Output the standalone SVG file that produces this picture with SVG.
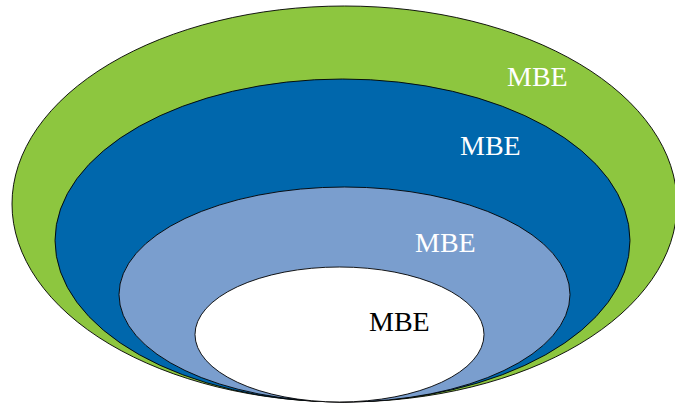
<svg xmlns="http://www.w3.org/2000/svg" width="675" height="403" viewBox="0 0 675 403">
<style>
.e{stroke:#000;stroke-width:0.9}
.t{font-family:"Liberation Serif","DejaVu Serif",serif;font-size:28px}
</style>
<rect width="675" height="403" fill="#fff"/>
<g id="n1"><ellipse class="e" cx="344.5" cy="204" rx="332.5" ry="198" fill="#8DC63F"/><text class="t" x="507" y="86" fill="#fff">MBE</text></g>
<g id="n2"><ellipse class="e" cx="342.5" cy="240.5" rx="287.5" ry="161.5" fill="#0067AC"/><text class="t" x="460" y="155" fill="#fff">MBE</text></g>
<g id="n3"><ellipse class="e" cx="344.5" cy="294.5" rx="225.5" ry="107.5" fill="#7A9ECE"/><text class="t" x="415" y="252" fill="#fff">MBE</text></g>
<g id="n4"><ellipse class="e" cx="339.5" cy="334.5" rx="144.5" ry="67.5" fill="#fff"/><text class="t" x="369" y="331" fill="#000">MBE</text></g>
<g id="connectors"/>
</svg>
